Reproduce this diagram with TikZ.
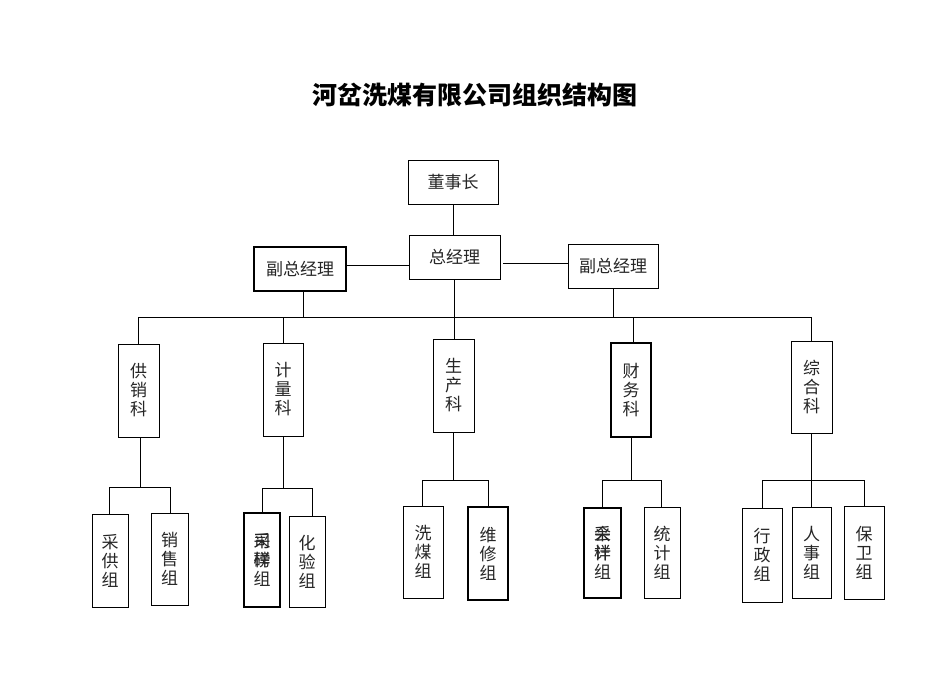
\documentclass[tikz,border=0pt]{standalone}
\usepackage{fontspec}
\newfontfamily\cjk{Noto Sans CJK SC}
\begin{document}
\begin{tikzpicture}[x=1pt,y=-1pt,
  box/.style={draw, line width=0.7pt, inner sep=0pt, align=center, text=black!85,
    font=\cjk\fontsize{17}{19}\selectfont},
  thickbox/.style={box, line width=1.1pt},
  ln/.style={line width=0.7pt},
  ovl/.style={inner sep=0pt, align=center, text=black!85, font=\cjk\fontsize{17}{19}\selectfont}]
\useasboundingbox (0,0) rectangle (950,672);
\fill[white] (0,0) rectangle (950,672);

\node[font=\cjk\bfseries\fontsize{25}{28}\selectfont] (title) at (475,95) {河岔洗煤有限公司组织结构图};

% top level
\node[box, minimum width=90pt, minimum height=44pt] (dsz) at (453,182) {董事长};
\node[box, minimum width=91pt, minimum height=44pt] (zjl) at (454.5,257) {总经理};
\node[thickbox, minimum width=92pt, minimum height=44pt] (vpl) at (300,269) {副总经理};
\node[box, minimum width=90pt, minimum height=44pt] (vpr) at (613,266) {副总经理};

% departments
\node[box, minimum width=41pt, minimum height=93pt] (gx) at (138.5,390.5) {供\\销\\科};
\node[box, minimum width=40pt, minimum height=93pt] (jl) at (283,389.5) {计\\量\\科};
\node[box, minimum width=41pt, minimum height=93pt] (sc) at (453.5,385.5) {生\\产\\科};
\node[thickbox, minimum width=40pt, minimum height=94pt] (cw) at (631,390) {财\\务\\科};
\node[box, line width=1pt, minimum width=41pt, minimum height=92pt] (zh) at (811.5,387) {综\\合\\科};

% groups
\node[box, minimum width=36pt, minimum height=93pt] (cg) at (110,560.5) {采\\供\\组};
\node[box, minimum width=37pt, minimum height=92pt] (xs) at (169.5,559) {销\\售\\组};
\node[thickbox, minimum width=36pt, minimum height=94pt] (cy) at (262,560) {采\\样\\组};
\node[ovl] (cyo) at (262,560) {司\\磅\\\phantom{组}};
\node[box, minimum width=36pt, minimum height=91pt] (hy) at (307,561.5) {化\\验\\组};
\node[box, minimum width=40pt, minimum height=92pt] (xm) at (423,552) {洗\\煤\\组};
\node[thickbox, minimum width=40pt, minimum height=93pt] (wx) at (488,553.5) {维\\修\\组};
\node[thickbox, minimum width=37pt, minimum height=90pt] (kj) at (602.5,553) {会\\计\\组};
\node[ovl] (kjo) at (602.5,553) {采\\样\\\phantom{组}};
\node[box, minimum width=36pt, minimum height=91pt] (tj) at (662,552.5) {统\\计\\组};
\node[box, line width=1pt, minimum width=40pt, minimum height=94pt] (xz) at (762,555) {行\\政\\组};
\node[box, minimum width=39pt, minimum height=91pt] (rs) at (811.5,552.5) {人\\事\\组};
\node[box, minimum width=40pt, minimum height=93pt] (bw) at (864,552.5) {保\\卫\\组};

% top connectors
\draw[ln] (dsz.south) -- (dsz.south |- zjl.north);
\draw[ln] ([yshift=4pt]vpl.east) -- ([yshift=4pt]vpl.east -| zjl.west);
\draw[ln] ([yshift=3pt]vpr.west) -- ([yshift=3pt, xshift=3pt]vpr.west -| zjl.east);

% bus
\coordinate (busL) at (138.5,317);
\coordinate (busR) at (811.5,317);
\draw[ln] (busL) -- (busR);
\draw[ln] ([xshift=3pt]vpl.south) -- ([xshift=3pt]vpl.south |- busL);
\draw[ln] (vpr.south) -- (vpr.south |- busL);
\draw[ln] (zjl.south) -- (zjl.south |- sc.north);
\draw[ln] (gx.north) -- (gx.north |- busL);
\draw[ln] (jl.north) -- (jl.north |- busL);
\draw[ln] ([xshift=2pt]cw.north) -- ([xshift=2pt]cw.north |- busL);
\draw[ln] (zh.north) -- (zh.north |- busL);

% lower connectors
\coordinate (gxb) at (140,487);
\draw[ln] ([xshift=1.5pt]gx.south) -- (gxb);
\draw[ln] ([xshift=-1pt]cg.north) -- ([xshift=-1pt]cg.north |- gxb) -- ([xshift=0.5pt]xs.north |- gxb) -- ([xshift=0.5pt]xs.north);

\coordinate (jlb) at (284,488);
\draw[ln] (jl.south) -- (jl.south |- jlb);
\draw[ln] (cy.north) -- (cy.north |- jlb) -- ([xshift=5pt]hy.north |- jlb) -- ([xshift=5pt]hy.north);

\coordinate (scb) at (455,480);
\draw[ln] (sc.south) -- (sc.south |- scb);
\draw[ln] ([xshift=-1pt]xm.north) -- ([xshift=-1pt]xm.north |- scb) -- (wx.north |- scb) -- (wx.north);

\coordinate (cwb) at (632,480);
\draw[ln] (cw.south) -- (cw.south |- cwb);
\draw[ln] (kj.north) -- (kj.north |- cwb) -- ([xshift=-1pt]tj.north |- cwb) -- ([xshift=-1pt]tj.north);

\coordinate (zhb) at (812,480);
\draw[ln] (zh.south) -- (zh.south |- zhb);
\draw[ln] (xz.north) -- (xz.north |- zhb) -- (bw.north |- zhb) -- (bw.north);
\draw[ln] (rs.north) -- (rs.north |- zhb);
\end{tikzpicture}
\end{document}
